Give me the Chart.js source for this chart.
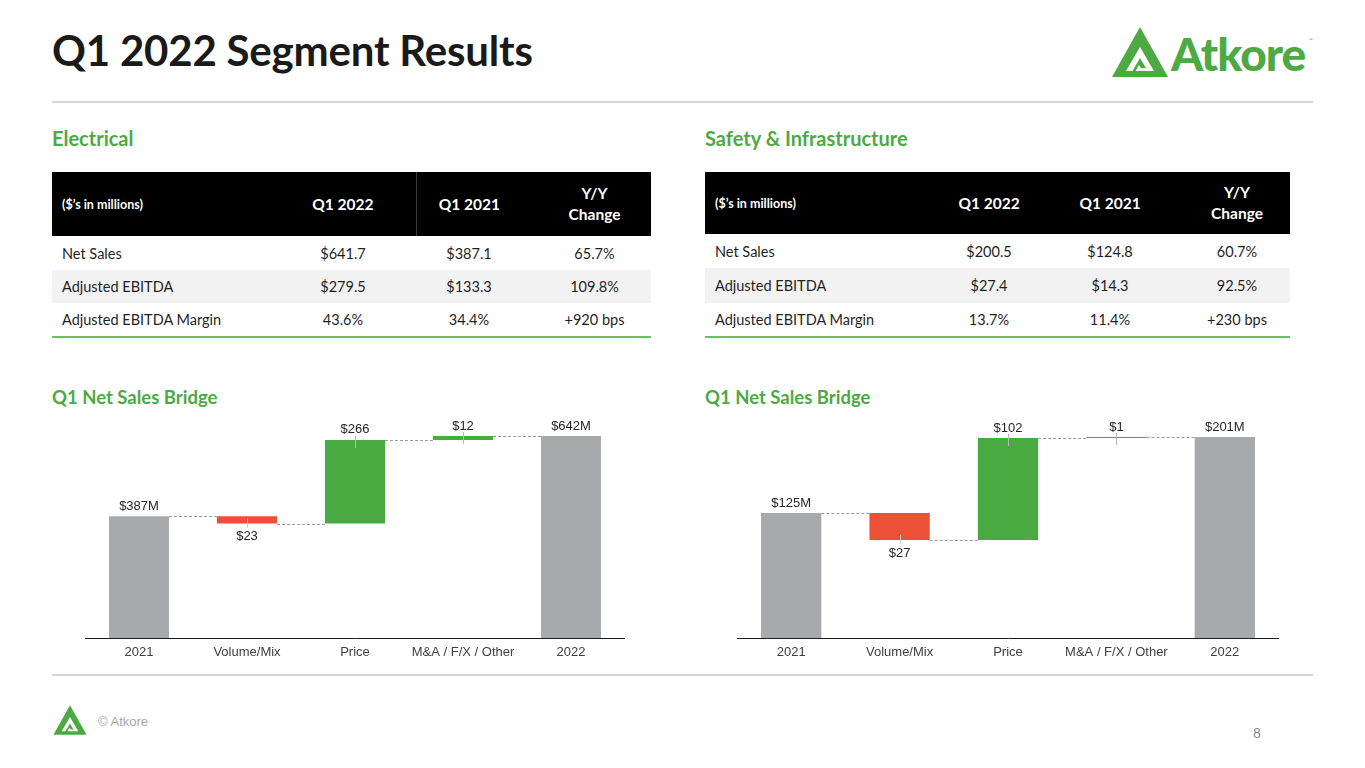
<!DOCTYPE html>
<html>
<head>
<meta charset="utf-8">
<script src="https://cdn.jsdelivr.net/npm/chart.js@4.4.1/dist/chart.umd.min.js"></script>
<style>
  html,body{margin:0;padding:0;background:#fff;}
  body{width:1365px;height:768px;position:relative;overflow:hidden;font-family:Lato,"Open Sans",sans-serif;}
  .abs{position:absolute;}
  .title{left:52px;top:25px;font-size:42px;font-weight:700;color:#1a1a1a;letter-spacing:-0.2px;}
  .rule{height:2px;background:#d6d6d6;left:52px;width:1261px;}
  .sec{font-size:20px;font-weight:700;color:#4DA944;}
  table{border-collapse:collapse;table-layout:fixed;}
  td,th{padding:0;font-size:14.5px;color:#1f1f1f;text-align:center;white-space:nowrap;}
  th{background:#000;color:#fff;font-weight:700;font-size:15.5px;line-height:21px;}
  th.small{font-size:12.5px;text-align:left;padding-left:10px;}
  td.lbl{text-align:left;padding-left:10px;}
  tr.g td{background:#f2f2f2;}
  tr.last td{border-bottom:2px solid #6dbf63;}
  .chartbox{position:absolute;}
  .foot{color:#a8a8a8;font-family:"Liberation Sans",Arial,sans-serif;font-size:13px;}
</style>
</head>
<body>
<div class="abs title">Q1 2022 Segment Results</div>
<svg class="abs" style="left:1110px;top:25px" width="210" height="55" viewBox="0 0 210 55">
  <path fill="#4DAA43" fill-rule="evenodd" d="M30 2 L58 52 L2 52 Z M30 22 L16 46 L44 46 Z"/>
  <path fill="#4DAA43" d="M19 52 L30 33 L36 43 L31 43 L29 40 L25 47 L19 52 Z"/>
  <text x="61" y="46" font-family="Lato,sans-serif" font-weight="900" font-size="46" fill="#4DAA43" letter-spacing="-1">Atkore</text>
  <text x="199" y="17" font-family="Lato,sans-serif" font-size="5" fill="#4DAA43">™</text>
</svg>
<div class="abs rule" style="top:101px"></div>

<div class="abs sec" style="left:52px;top:126px">Electrical</div>
<div class="abs sec" style="left:705px;top:126px">Safety &amp; Infrastructure</div>

<table class="abs" style="left:52px;top:172px;width:599px">
  <colgroup><col style="width:218px"><col style="width:146px"><col style="width:106px"><col style="width:129px"></colgroup>
  <tr style="height:64px"><th class="small">($’s in millions)</th><th style="border-right:1px solid #3a3a3a">Q1 2022</th><th>Q1 2021</th><th style="padding-left:16px">Y/Y<br>Change</th></tr>
  <tr style="height:34px"><td class="lbl">Net Sales</td><td>$641.7</td><td>$387.1</td><td style="padding-left:16px">65.7%</td></tr>
  <tr class="g" style="height:33px"><td class="lbl">Adjusted EBITDA</td><td>$279.5</td><td>$133.3</td><td style="padding-left:16px">109.8%</td></tr>
  <tr class="last" style="height:34px"><td class="lbl">Adjusted EBITDA Margin</td><td>43.6%</td><td>34.4%</td><td style="padding-left:16px">+920 bps</td></tr>
</table>

<table class="abs" style="left:705px;top:172px;width:585px">
  <colgroup><col style="width:213px"><col style="width:142px"><col style="width:100px"><col style="width:130px"></colgroup>
  <tr style="height:62px"><th class="small">($’s in millions)</th><th>Q1 2022</th><th>Q1 2021</th><th style="padding-left:24px">Y/Y<br>Change</th></tr>
  <tr style="height:34px"><td class="lbl">Net Sales</td><td>$200.5</td><td>$124.8</td><td style="padding-left:24px">60.7%</td></tr>
  <tr class="g" style="height:35px"><td class="lbl">Adjusted EBITDA</td><td>$27.4</td><td>$14.3</td><td style="padding-left:24px">92.5%</td></tr>
  <tr class="last" style="height:34px"><td class="lbl">Adjusted EBITDA Margin</td><td>13.7%</td><td>11.4%</td><td style="padding-left:24px">+230 bps</td></tr>
</table>

<div class="abs sec" style="left:52px;top:386px;font-size:18.5px">Q1 Net Sales Bridge</div>
<div class="abs sec" style="left:705px;top:386px;font-size:18.5px">Q1 Net Sales Bridge</div>

<div class="chartbox" style="left:85px;top:410px;width:540px;height:255px"><canvas id="c1"></canvas></div>
<div class="chartbox" style="left:737px;top:410px;width:542px;height:255px"><canvas id="c2"></canvas></div>

<div class="abs rule" style="top:674px"></div>
<svg class="abs" style="left:50px;top:704px" width="40" height="32" viewBox="0 0 60 54">
  <path fill="#4DAA43" fill-rule="evenodd" d="M30 2 L58 52 L2 52 Z M30 22 L16 46 L44 46 Z"/>
  <path fill="#4DAA43" d="M19 52 L30 33 L36 43 L31 43 L29 40 L25 47 L19 52 Z"/>
</svg>
<div class="abs foot" style="left:98px;top:714px">© Atkore</div>
<div class="abs foot" style="left:1253px;top:725px;font-size:14px;color:#8a8a8a">8</div>

<script>
const categories = ['2021', 'Volume/Mix', 'Price', 'M&A / F/X / Other', '2022'];
const stepKinds = ['total', 'delta', 'delta', 'delta', 'total'];
const elecSteps = [387, -23, 266, 12, 642];
const elecLabels = ['$387M', '$23', '$266', '$12', '$642M'];
const safeSteps = [125, -27, 102, 1, 201];
const safeLabels = ['$125M', '$27', '$102', '$1', '$201M'];

const GRAY = '#A7A9AC', GREEN = '#4AAA42', RED = '#EC5036';

function buildBridge(steps) {
  let running = 0;
  const ranges = [], ends = [], colors = [];
  steps.forEach((v, i) => {
    if (stepKinds[i] === 'total') {
      ranges.push([0, v]); running = v; colors.push(GRAY);
    } else {
      ranges.push([running, running + v]); running += v; colors.push(v < 0 ? RED : GREEN);
    }
    ends.push(running);
  });
  return { ranges, ends, colors };
}

const wfPlugin = {
  id: 'wf',
  afterDatasetsDraw(chart) {
    const ctx = chart.ctx;
    const meta = chart.getDatasetMeta(0);
    const ys = chart.scales.y;
    const ds = chart.data.datasets[0];
    const ends = ds.ends, steps = ds.steps, labels = ds.labelsText;
    ctx.save();
    ctx.setLineDash([3, 2]);
    ctx.strokeStyle = '#9c9c9c';
    ctx.lineWidth = 1;
    for (let i = 0; i < meta.data.length - 1; i++) {
      const a = meta.data[i], b = meta.data[i + 1];
      const y = Math.round(ys.getPixelForValue(ends[i])) + 0.5;
      ctx.beginPath();
      ctx.moveTo(a.x + a.width / 2, y);
      ctx.lineTo(b.x - b.width / 2, y);
      ctx.stroke();
    }
    ctx.setLineDash([]);
    ctx.font = '13px "Liberation Sans", Arial, sans-serif';
    ctx.fillStyle = '#262626';
    ctx.textAlign = 'center';
    ctx.textBaseline = 'middle';
    meta.data.forEach((bar, i) => {
      const r = ds.data[i];
      const topPx = ys.getPixelForValue(Math.max(r[0], r[1]));
      const botPx = ys.getPixelForValue(Math.min(r[0], r[1]));
      const isDelta = stepKinds[i] === 'delta';
      if (isDelta && steps[i] < 0) {
        ctx.fillText(labels[i], bar.x, botPx + 13);
        ctx.strokeStyle = '#c8c8c8';
        ctx.beginPath(); ctx.moveTo(Math.round(bar.x) + 0.5, botPx - 5); ctx.lineTo(Math.round(bar.x) + 0.5, botPx + 4); ctx.stroke();
      } else {
        ctx.fillText(labels[i], bar.x, topPx - 10);
        if (isDelta) {
          ctx.strokeStyle = '#b8b8b8';
          ctx.beginPath(); ctx.moveTo(Math.round(bar.x) + 0.5, topPx - 4); ctx.lineTo(Math.round(bar.x) + 0.5, topPx + 8); ctx.stroke();
        }
      }
    });
    ctx.restore();
  }
};

function makeChart(id, steps, labels, yMax) {
  const b = buildBridge(steps);
  return new Chart(document.getElementById(id), {
    type: 'bar',
    data: {
      labels: categories,
      datasets: [{
        data: b.ranges,
        backgroundColor: b.colors,
        borderWidth: 0,
        borderSkipped: false,
        barPercentage: 0.556,
        categoryPercentage: 1.0,
        ends: b.ends,
        steps: steps,
        labelsText: labels
      }]
    },
    options: {
      responsive: true,
      maintainAspectRatio: false,
      animation: false,
      layout: { padding: 0 },
      plugins: { legend: { display: false }, tooltip: { enabled: false } },
      scales: {
        y: { display: false, min: 0, max: yMax },
        x: {
          afterFit(s) { s.height = 27; },
          grid: { display: false, drawTicks: false },
          border: { display: true, color: '#1a1a1a', width: 1 },
          ticks: { color: '#404040', padding: 7, font: { family: '"Liberation Sans", Arial, sans-serif', size: 13 }, maxRotation: 0, autoSkip: false }
        }
      }
    },
    plugins: [wfPlugin]
  });
}

makeChart('c1', elecSteps, elecLabels, 725);
makeChart('c2', safeSteps, safeLabels, 228);
</script>
</body>
</html>
